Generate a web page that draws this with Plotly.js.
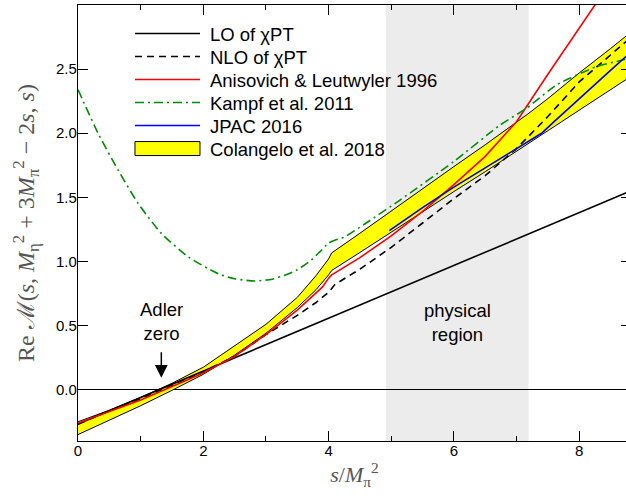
<!DOCTYPE html>
<html>
<head>
<meta charset="utf-8">
<script src="https://cdn.plot.ly/plotly-3.0.1.min.js"></script>
<style>
  html, body { margin: 0; padding: 0; overflow: hidden; background: #fff; }
  #chart { width: 632px; height: 501px; }
</style>
</head>
<body>
<div id="chart"></div>
<script>
// Real part of the eta -> 3pi amplitude along the line t = M_eta^2 + 3M_pi^2 - 2s, u = s

// LO of chiPT
const sLO = [0, 8.83];
const reLO = [-0.267, 1.552];

// NLO of chiPT
const sNLO = [0, 0.5, 1.0, 1.5, 2.0, 2.5, 3.0, 3.5, 3.8, 4.0, 4.1, 4.5, 5.0, 5.5, 6.0, 6.5, 7.0, 7.5, 8.0, 8.5, 8.83];
const reNLO = [-0.27, -0.165, -0.07, 0.035, 0.14, 0.26, 0.43, 0.58, 0.68, 0.76, 0.82, 0.94, 1.11, 1.30, 1.49, 1.67, 1.88, 2.13, 2.40, 2.61, 2.75];

// Anisovich & Leutwyler 1996
const sAL = [0, 0.5, 1.0, 1.5, 2.0, 2.5, 3.0, 3.5, 3.7, 3.9, 4.0, 4.05, 4.5, 5.0, 5.5, 6.0, 6.5, 7.0, 7.5, 8.0, 8.3, 8.6];
const reAL = [-0.26, -0.17, -0.08, 0.025, 0.13, 0.26, 0.43, 0.62, 0.71, 0.80, 0.87, 0.895, 1.03, 1.20, 1.39, 1.60, 1.82, 2.09, 2.46, 2.82, 3.03, 3.25];

// Kampf et al. 2011
const sKampf = [0, 0.32, 0.64, 0.96, 1.33, 1.76, 2.23, 2.5, 2.82, 3.1, 3.3, 3.5, 3.72, 3.86, 3.99, 4.1, 4.25, 4.6, 5.14, 6.0, 6.74, 7.16, 7.64, 8.28, 8.6, 8.83];
const reKampf = [2.34, 2.0, 1.713, 1.453, 1.219, 1.036, 0.906, 0.865, 0.848, 0.862, 0.893, 0.935, 1.01, 1.075, 1.14, 1.165, 1.19, 1.30, 1.479, 1.78, 2.065, 2.195, 2.377, 2.52, 2.56, 2.59];

// JPAC 2016 (physical region and above)
const sJPAC = [4.97, 5.5, 6.0, 6.5, 7.0, 7.2, 7.4, 7.6, 8.0, 8.5, 8.83];
const reJPAC = [1.24, 1.42, 1.58, 1.73, 1.88, 1.94, 2.0, 2.09, 2.27, 2.49, 2.635];

// Colangelo et al. 2018 uncertainty band
const sBand = [0, 0.5, 1.0, 1.5, 2.0, 2.5, 3.0, 3.5, 3.8, 4.0, 4.05, 4.5, 5.0, 5.5, 6.0, 6.5, 7.0, 7.18, 7.5, 8.0, 8.5, 8.83];
const bandUpper = [-0.25, -0.16, -0.06, 0.05, 0.175, 0.345, 0.51, 0.72, 0.89, 1.02, 1.067, 1.22, 1.395, 1.57, 1.74, 1.91, 2.085, 2.15, 2.27, 2.47, 2.66, 2.79];
const bandLower = [-0.35, -0.24, -0.125, -0.005, 0.12, 0.27, 0.44, 0.64, 0.78, 0.895, 0.93, 1.07, 1.23, 1.385, 1.545, 1.70, 1.86, 1.915, 2.02, 2.18, 2.34, 2.445];

// Physical decay region and the Adler zero
const physicalRegion = [4.916, 7.194];
const adlerZero = [1.33, 0.094];

const xTicks = [0, 2, 4, 6, 8];
const yTicks = [0.0, 0.5, 1.0, 1.5, 2.0, 2.5, 3.0];

const sansFont = '"Liberation Sans", Arial, Helvetica, sans-serif';
const serifFont = '"Liberation Serif", "Times New Roman", serif';
const noteFont = { family: sansFont, size: 18.5, color: '#000' };

const traces = [
  { x: sBand, y: bandLower, mode: 'lines', line: { color: '#000', width: 1 },
    showlegend: false, hoverinfo: 'skip' },
  { x: sBand, y: bandUpper, mode: 'lines', line: { color: '#000', width: 1 },
    fill: 'tonexty', fillcolor: '#ffff00', name: 'Colangelo et al. 2018', legendrank: 6 },
  { x: sLO, y: reLO, mode: 'lines', line: { color: '#000', width: 1.6 },
    name: 'LO of χPT', legendrank: 1 },
  { x: sNLO, y: reNLO, mode: 'lines', line: { color: '#000', width: 1.6, dash: '7px,5px' },
    name: 'NLO of χPT', legendrank: 2 },
  { x: sAL, y: reAL, mode: 'lines', line: { color: '#ff0000', width: 1.6 },
    name: 'Anisovich &amp; Leutwyler 1996', legendrank: 3 },
  { x: sKampf, y: reKampf, mode: 'lines', line: { color: '#008c00', width: 1.6, dash: '9px,4px,2px,4px', shape: 'spline', smoothing: 0.6 },
    name: 'Kampf et al. 2011', legendrank: 4 },
  { x: sJPAC, y: reJPAC, mode: 'lines', line: { color: '#0000ff', width: 1.6 },
    name: 'JPAC 2016', legendrank: 5 }
];

const axisCommon = {
  showline: true, linecolor: '#000', linewidth: 1.2, mirror: 'allticks',
  ticks: 'inside', ticklen: 10, tickwidth: 1, tickcolor: '#000',
  showgrid: false,
  tickfont: { family: sansFont, size: 15, color: '#000' }
};

const layout = {
  width: 632, height: 501,
  margin: { l: 78, r: 1, t: 5, b: 60 },
  paper_bgcolor: '#fff', plot_bgcolor: '#fff',
  font: { family: sansFont, size: 17, color: '#000' },
  xaxis: Object.assign({}, axisCommon, {
    range: [0, 8.827], tickvals: xTicks, zeroline: false,
    minor: { dtick: 1, tick0: 0, ticks: 'inside', ticklen: 5, tickcolor: '#000', showgrid: false },
    ticklabelstandoff: -4,
    title: { text: '<i>s</i>/<i>M</i><sub>π</sub><sup>2</sup>', standoff: 6,
             font: { family: serifFont, size: 22, color: '#555' } }
  }),
  yaxis: Object.assign({}, axisCommon, {
    range: [-0.4, 3.0], tickvals: yTicks, tickformat: '.1f',
    zeroline: true, zerolinecolor: '#000', zerolinewidth: 1,
    ticklabelstandoff: -3,
    title: { text: 'Re ℳ(<i>s</i>, <i>M</i><sub>η</sub><sup>2</sup> + 3<i>M</i><sub>π</sub><sup>2</sup> − 2<i>s</i>, <i>s</i>)',
             standoff: 14, font: { family: serifFont, size: 24, color: '#555' } }
  }),
  legend: {
    x: 0.094, xanchor: 'left', y: 0.977, yanchor: 'top',
    traceorder: 'normal',
    bgcolor: 'rgba(0,0,0,0)', borderwidth: 0,
    itemwidth: 65, tracegroupgap: 0,
    font: { family: sansFont, size: 18.5, color: '#000' }
  },
  shapes: [
    { type: 'rect', xref: 'x', yref: 'paper', x0: physicalRegion[0], x1: physicalRegion[1], y0: 0, y1: 1,
      fillcolor: '#ececec', line: { width: 0 }, layer: 'below' }
  ],
  annotations: [
    { x: adlerZero[0], y: 0.53, xref: 'x', yref: 'y', text: 'Adler<br>zero', showarrow: false, font: noteFont },
    { x: adlerZero[0], y: adlerZero[1], xref: 'x', yref: 'y', text: '', showarrow: true,
      ax: 0, ay: -27, arrowhead: 2, arrowsize: 1.7, arrowwidth: 1.5, arrowcolor: '#000' },
    { x: (physicalRegion[0] + physicalRegion[1]) / 2, y: 0.525, xref: 'x', yref: 'y',
      text: 'physical<br>region', showarrow: false, font: noteFont }
  ]
};

Plotly.newPlot('chart', traces, layout, { staticPlot: true, displayModeBar: false }).then(function (gd) {
  const items = Array.from(gd.querySelectorAll('.legend .traces'));
  let y0 = null;
  items.forEach(function (g, i) {
    // tighter, even row spacing
    const m = /translate\(\s*([-\d.]+)[ ,]+([-\d.]+)\s*\)/.exec(g.getAttribute('transform') || '');
    if (m) {
      if (y0 === null) y0 = parseFloat(m[2]);
      g.setAttribute('transform', 'translate(' + m[1] + ',' + (y0 + 23 * i) + ')');
    }
    // a little more room between swatch and label
    const txt = g.querySelector('.legendtext');
    if (txt) txt.setAttribute('x', parseFloat(txt.getAttribute('x') || 0) + 5);
    // the band's swatch becomes an outlined box
    if (txt && txt.textContent.indexOf('Colangelo') === 0) {
      const fill = g.querySelector('.legendfill path');
      if (fill) {
        fill.setAttribute('d', 'M5,-7h65v14h-65z');
        fill.style.stroke = '#000';
        fill.style.strokeWidth = '1px';
      }
      g.querySelectorAll('.legendlines path').forEach(function (p) { p.remove(); });
    }
  });
});
</script>
</body>
</html>
